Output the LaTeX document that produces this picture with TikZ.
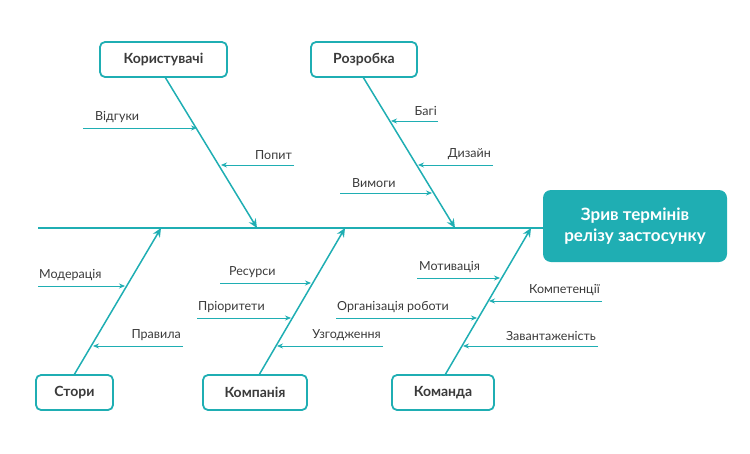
\documentclass[tikz,border=0pt]{standalone}
\usepackage{fontspec}
\setmainfont{Lato}
\usetikzlibrary{arrows.meta}
\definecolor{teal1}{HTML}{1FAEB3}
\definecolor{txt}{HTML}{3A3A3A}
\begin{document}
\begin{tikzpicture}[x=1pt,y=-1pt,
  bone/.style={teal1,line width=1.5pt,-{Stealth[length=9pt,width=8pt]}},
  sub/.style={teal1,line width=0.8pt,-{Stealth[length=6pt,width=5pt]}},
  cat/.style={draw=teal1,line width=1.8pt,rounded corners=5pt,fill=white,text=txt,font=\bfseries\fontsize{14}{16}\selectfont,minimum height=35pt,inner xsep=6pt},
  lab/.style={text=txt,font=\fontsize{12.5}{14}\selectfont,inner sep=1pt}]
\useasboundingbox (0,0) rectangle (750,453);
\node[fill=teal1,rounded corners=8pt,minimum width=184pt,minimum height=72pt,text=white,align=center,font=\bfseries\fontsize{17}{21}\selectfont] (head) at (635,226) {Зрив термінів\\релізу застосунку};
\coordinate (s0) at (38,228);
\draw[teal1,line width=1.5pt] (s0) -- (head.west|-s0);
\node[cat,minimum width=127pt] (u) at (163.5,59.5) {Користувачі};
\node[cat,minimum width=106pt] (r) at (364,59.5) {Розробка};
\node[cat,minimum width=77pt] (st) at (74.5,392.5) {Стори};
\node[cat,minimum width=104pt] (ko) at (255,392.5) {Компанія};
\node[cat,minimum width=102pt] (km) at (443,392.5) {Команда};
\coordinate (ue) at (257,228); \coordinate (re) at (455,228);
\coordinate (se) at (161,228); \coordinate (koe) at (345,228); \coordinate (kme) at (531,228);
\draw[bone] (165,77) -- (ue);
\draw[bone] (363,77) -- (re);
\draw[bone] (74,375) -- (se);
\draw[bone] (259,375) -- (koe);
\draw[bone] (445,375) -- (kme);
% subs
\coordinate (a1) at (83,128); \coordinate (b1) at (197,128);
\draw[sub] (a1) -- (b1); \node[lab,anchor=south west] (l1) at (94,124) {Відгуки};
\coordinate (a2) at (294,165); \coordinate (b2) at (221,165);
\draw[sub] (a2) -- (b2); \node[lab,anchor=south east] (l2) at (293,161) {Попит};
\coordinate (a3) at (438,121); \coordinate (b3) at (391,121);
\draw[sub] (a3) -- (b3); \node[lab,anchor=south east] (l3) at (438,117) {Багі};
\coordinate (a4) at (493,165); \coordinate (b4) at (418,165);
\draw[sub] (a4) -- (b4); \node[lab,anchor=south east] (l4) at (492,161) {Дизайн};
\coordinate (a5) at (340,193); \coordinate (b5) at (432,193);
\draw[sub] (a5) -- (b5); \node[lab,anchor=south west] (l5) at (351,189) {Вимоги};
\coordinate (a6) at (38,286); \coordinate (b6) at (125,286);
\draw[sub] (a6) -- (b6); \node[lab,anchor=south west] (l6) at (38,282) {Модерація};
\coordinate (a7) at (183,346); \coordinate (b7) at (93,346);
\draw[sub] (a7) -- (b7); \node[lab,anchor=south east] (l7) at (182,342) {Правила};
\coordinate (a8) at (220,283); \coordinate (b8) at (311,283);
\draw[sub] (a8) -- (b8); \node[lab,anchor=south west] (l8) at (228,279) {Ресурси};
\coordinate (a9) at (197,318); \coordinate (b9) at (291,318);
\draw[sub] (a9) -- (b9); \node[lab,anchor=south west] (l9) at (197,314) {Пріоритети};
\coordinate (a10) at (383,346); \coordinate (b10) at (277,346);
\draw[sub] (a10) -- (b10); \node[lab,anchor=south east] (l10) at (382,342) {Узгодження};
\coordinate (a11) at (417,278); \coordinate (b11) at (500,278);
\draw[sub] (a11) -- (b11); \node[lab,anchor=south west] (l11) at (418,274) {Мотивація};
\coordinate (a12) at (602,301); \coordinate (b12) at (489,301);
\draw[sub] (a12) -- (b12); \node[lab,anchor=south east] (l12) at (601,297) {Компетенції};
\coordinate (a13) at (336,318); \coordinate (b13) at (477,318);
\draw[sub] (a13) -- (b13); \node[lab,anchor=south west] (l13) at (336,314) {Організація роботи};
\coordinate (a14) at (598,346); \coordinate (b14) at (463,346);
\draw[sub] (a14) -- (b14); \node[lab,anchor=south east] (l14) at (597,342) {Завантаженість};
\end{tikzpicture}
\end{document}
